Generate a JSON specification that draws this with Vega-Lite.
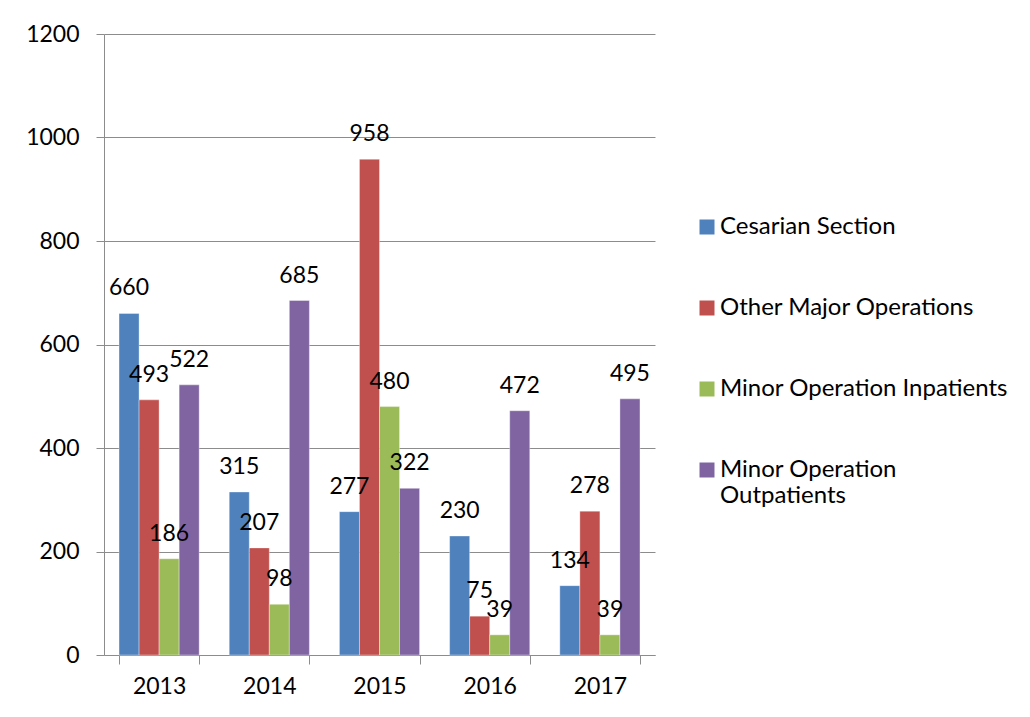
{
  "$schema": "https://vega.github.io/schema/vega-lite/v6.json",
  "autosize": "none",
  "width": 551,
  "height": 621,
  "padding": {"left": 104, "top": 34, "right": 375, "bottom": 62},
  "background": "white",
  "data": {
    "values": [
      {"year": "2013", "type": "Cesarian Section", "value": 660},
      {"year": "2013", "type": "Other Major Operations", "value": 493},
      {"year": "2013", "type": "Minor Operation Inpatients", "value": 186},
      {"year": "2013", "type": "Minor Operation Outpatients", "value": 522},
      {"year": "2014", "type": "Cesarian Section", "value": 315},
      {"year": "2014", "type": "Other Major Operations", "value": 207},
      {"year": "2014", "type": "Minor Operation Inpatients", "value": 98},
      {"year": "2014", "type": "Minor Operation Outpatients", "value": 685},
      {"year": "2015", "type": "Cesarian Section", "value": 277},
      {"year": "2015", "type": "Other Major Operations", "value": 958},
      {"year": "2015", "type": "Minor Operation Inpatients", "value": 480},
      {"year": "2015", "type": "Minor Operation Outpatients", "value": 322},
      {"year": "2016", "type": "Cesarian Section", "value": 230},
      {"year": "2016", "type": "Other Major Operations", "value": 75},
      {"year": "2016", "type": "Minor Operation Inpatients", "value": 39},
      {"year": "2016", "type": "Minor Operation Outpatients", "value": 472},
      {"year": "2017", "type": "Cesarian Section", "value": 134},
      {"year": "2017", "type": "Other Major Operations", "value": 278},
      {"year": "2017", "type": "Minor Operation Inpatients", "value": 39},
      {"year": "2017", "type": "Minor Operation Outpatients", "value": 495}
    ]
  },
  "encoding": {
    "x": {
      "field": "year", "type": "nominal", "title": null,
      "scale": {"paddingInner": 0.2727, "paddingOuter": 0.1364},
      "axis": {
        "labelAngle": 0, "tickBand": "extent", "grid": false,
        "tickSize": 9, "labelPadding": 11, "domainColor": "#8c8c8c", "tickColor": "#8c8c8c",
        "labelFontSize": 23, "labelFont": "Lato", "labelColor": "black"
      }
    },
    "xOffset": {
      "field": "type", "type": "nominal",
      "sort": ["Cesarian Section", "Other Major Operations", "Minor Operation Inpatients", "Minor Operation Outpatients"],
      "scale": {"paddingInner": 0, "paddingOuter": 0}
    },
    "y": {
      "field": "value", "type": "quantitative", "title": null,
      "scale": {"domain": [0, 1200], "nice": false},
      "axis": {
        "values": [0, 200, 400, 600, 800, 1000, 1200], "format": "d", "grid": true, "gridColor": "#8c8c8c",
        "tickSize": 8, "labelPadding": 17, "domainColor": "#8c8c8c", "tickColor": "#8c8c8c",
        "labelFontSize": 23, "labelFont": "Lato", "labelColor": "black"
      }
    }
  },
  "layer": [
    {
      "mark": {"type": "bar", "stroke": "white", "strokeWidth": 0.6, "strokeOpacity": 0.6},
      "encoding": {
        "color": {
          "field": "type", "type": "nominal", "title": null,
          "sort": ["Cesarian Section", "Other Major Operations", "Minor Operation Inpatients", "Minor Operation Outpatients"],
          "scale": {
            "domain": ["Cesarian Section", "Other Major Operations", "Minor Operation Inpatients", "Minor Operation Outpatients"],
            "range": ["#4F81BD", "#C0504D", "#9BBB59", "#8064A2"]
          },
          "legend": {
            "orient": "none", "legendX": 591, "legendY": 181,
            "symbolType": "square", "symbolSize": 225, "symbolStrokeWidth": 0,
            "labelFontSize": 24, "labelFont": "Lato", "labelColor": "black",
            "labelOffset": 1, "rowPadding": 57, "labelLimit": 400,
            "labelBaseline": "middle",
            "labelExpr": "datum.label == 'Minor Operation Outpatients' ? ['Minor Operation', 'Outpatients'] : datum.label",
            "encode": {"labels": {"update": {"dy": {"signal": "datum.label == 'Minor Operation Outpatients' ? 15 : 0"}, "lineHeight": {"value": 30}}}}
          }
        }
      }
    },
    {
      "mark": {"type": "text", "dy": -18, "baseline": "alphabetic", "align": "center", "fontSize": 23, "font": "Lato", "color": "black"},
      "encoding": {"text": {"field": "value", "type": "quantitative"}}
    }
  ],
  "config": {"view": {"stroke": null}}
}
